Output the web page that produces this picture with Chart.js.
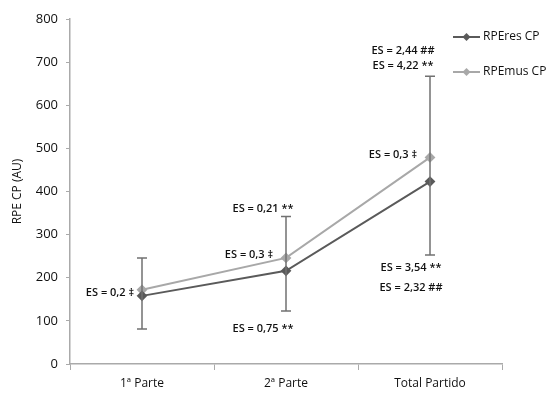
<!DOCTYPE html>
<html>
<head>
<meta charset="utf-8">
<script src="https://cdn.jsdelivr.net/npm/chart.js@4"></script>
<style>
    body { margin: 0; background: #fff; }
</style>
</head>
<body>
<canvas id="chart" width="549" height="396"></canvas>
<script>
const categories = ['1ª Parte', '2ª Parte', 'Total Partido'];
const rpeRes = [158, 216, 423];
const rpeMus = [172, 246, 479];
const rpeResLow = [81, 123, 253];
const rpeMusHigh = [246, 342, 667];
const yTicks = [0, 100, 200, 300, 400, 500, 600, 700, 800];

// label text, category index, series, dx, dy relative to the point
const notes = [
    ['ES = 0,2 ‡', 0, 'res', -32, -3],
    ['ES = 0,3 ‡', 1, 'mus', -37, -3],
    ['ES = 0,21 **', 1, 'mus', -23, -49],
    ['ES = 0,75 **', 1, 'res', -23, 58],
    ['ES = 0,3 ‡', 2, 'mus', -37, -3],
    ['ES = 2,44 ##', 2, 'mus', -27, -107],
    ['ES = 4,22 **', 2, 'mus', -27, -92],
    ['ES = 3,54 **', 2, 'res', -19, 86],
    ['ES = 2,32 ##', 2, 'res', -19, 106],
];

const FONT = '"Open Sans", sans-serif';

const errorBars = {
    id: 'errorBars',
    afterDatasetsDraw(chart) {
        const { ctx, scales: { x, y } } = chart;
        ctx.save();
        ctx.strokeStyle = '#717171';
        ctx.lineWidth = 1.5;
        categories.forEach((c, i) => {
            const px = x.getPixelForValue(i);
            const top = y.getPixelForValue(rpeMusHigh[i]);
            const bottom = y.getPixelForValue(rpeResLow[i]);
            ctx.beginPath();
            ctx.moveTo(px, top);
            ctx.lineTo(px, bottom);
            ctx.moveTo(px - 5, top);
            ctx.lineTo(px + 5, top);
            ctx.moveTo(px - 5, bottom);
            ctx.lineTo(px + 5, bottom);
            ctx.stroke();
        });
        ctx.restore();
    },
};

const annotations = {
    id: 'annotations',
    afterDraw(chart) {
        const { ctx, scales: { x, y } } = chart;
        ctx.save();
        ctx.fillStyle = '#111';
        ctx.font = '600 11px ' + FONT;
        ctx.textAlign = 'center';
        ctx.textBaseline = 'middle';
        notes.forEach(([text, i, series, dx, dy]) => {
            const value = series === 'res' ? rpeRes[i] : rpeMus[i];
            ctx.fillText(text, x.getPixelForValue(i) + dx, y.getPixelForValue(value) + dy);
        });

        // legend
        const items = [['RPEres CP', '#5a5a5a', 37], ['RPEmus CP', '#a8a8a8', 72]];
        ctx.font = '12px ' + FONT;
        ctx.textAlign = 'left';
        items.forEach(([label, color, ly]) => {
            ctx.strokeStyle = color;
            ctx.fillStyle = color;
            ctx.lineWidth = 2;
            ctx.beginPath();
            ctx.moveTo(453, ly);
            ctx.lineTo(480, ly);
            ctx.stroke();
            ctx.beginPath();
            ctx.moveTo(466.5, ly - 4);
            ctx.lineTo(470.5, ly);
            ctx.lineTo(466.5, ly + 4);
            ctx.lineTo(462.5, ly);
            ctx.closePath();
            ctx.fill();
            ctx.fillStyle = '#111';
            ctx.fillText(label, 483, ly);
        });
        ctx.restore();
    },
};

new Chart(document.getElementById('chart'), {
    type: 'line',
    data: {
        labels: categories,
        datasets: [
            {
                label: 'RPEres CP',
                data: rpeRes,
                borderColor: '#5a5a5a',
                backgroundColor: '#5a5a5a',
                borderWidth: 2,
                pointStyle: 'rectRot',
                pointRadius: 4,
            },
            {
                label: 'RPEmus CP',
                data: rpeMus,
                borderColor: '#a8a8a8',
                backgroundColor: '#a8a8a8',
                borderWidth: 2,
                pointStyle: 'rectRot',
                pointRadius: 4,
            },
        ],
    },
    options: {
        responsive: false,
        animation: false,
        layout: { padding: { top: 19, right: 47, left: 10, bottom: 0 } },
        plugins: {
            legend: { display: false },
            tooltip: { enabled: false },
        },
        scales: {
            x: {
                offset: true,
                grid: {
                    offset: true,
                    drawOnChartArea: false,
                    color: '#aaaaaa',
                    tickLength: 6,
                },
                border: { color: '#aaaaaa', width: 1.5 },
                ticks: { color: '#111', font: { family: FONT, size: 12 }, padding: 6 },
                afterFit(scale) { scale.height = 32; },
            },
            y: {
                min: 0,
                max: 800,
                afterBuildTicks(scale) { scale.ticks = yTicks.map((v) => ({ value: v })); },
                grid: {
                    drawOnChartArea: false,
                    color: '#aaaaaa',
                    tickLength: 4,
                },
                border: { color: '#aaaaaa', width: 1.5 },
                ticks: { color: '#111', font: { family: FONT, size: 13 }, padding: 8 },
                title: {
                    display: true,
                    text: 'RPE CP (AU)',
                    color: '#111',
                    font: { family: FONT, size: 12 },
                    padding: { top: 0, bottom: 4 },
                },
                afterFit(scale) { scale.width = 60; },
            },
        },
    },
    plugins: [errorBars, annotations],
});
</script>
</body>
</html>
